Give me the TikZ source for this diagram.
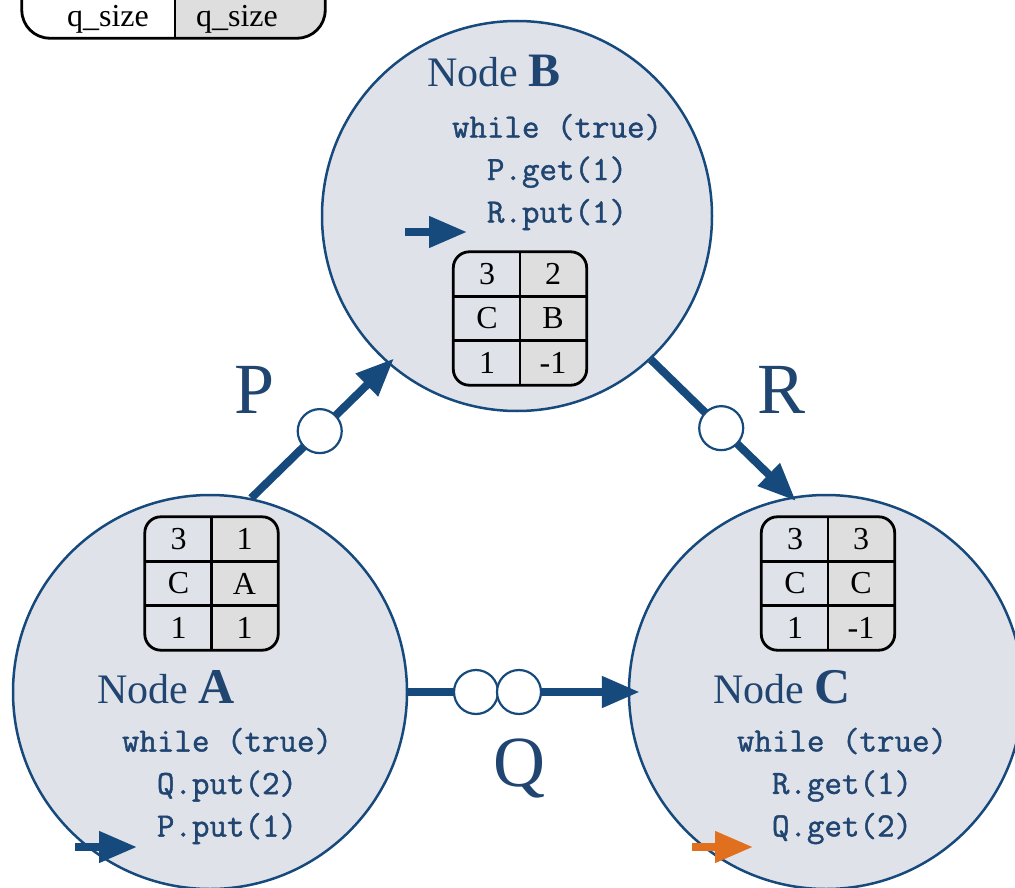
\documentclass[tikz,border=0pt]{standalone}
\usepackage{fontspec}
\setmainfont{Liberation Serif}
\setmonofont{Latin Modern Mono}[FakeBold=1.3]
\usetikzlibrary{shapes.geometric, arrows.meta, positioning, calc}

\definecolor{edgeblue}{HTML}{174A7C}
\definecolor{txtblue}{HTML}{1F4570}
\definecolor{circfill}{HTML}{E0E2EA}
\definecolor{cellgray}{HTML}{DEDEDE}
\definecolor{ptrorange}{HTML}{E0701E}

\begin{document}
\begin{tikzpicture}[x=1pt, y=-1pt]
        \tikzstyle{proc} = [circle, draw=edgeblue, line width=2.5pt, fill=circfill, minimum size=394pt, inner sep=0pt]
        \tikzstyle{title} = [text=txtblue, inner sep=0pt, anchor=base, font=\fontsize{42}{48}\selectfont]
        \tikzstyle{code} = [text=txtblue, inner sep=0pt, align=center, font=\fontsize{34}{42.5}\selectfont\ttfamily]
        \tikzstyle{chan} = [text=txtblue, inner sep=0pt, anchor=base, font=\fontsize{72}{72}\selectfont]
        \tikzstyle{qtab} = [rectangle, minimum width=133pt, minimum height=133pt, inner sep=0pt]
        \tikzstyle{tabline} = [line width=2.8pt, draw=black]
        \tikzstyle{cell} = [inner sep=0pt, font=\fontsize{32}{36}\selectfont]
        \tikzstyle{slot} = [circle, draw=edgeblue, line width=2.2pt, fill=white, minimum size=44pt, inner sep=0pt]
        \tikzstyle{arrow} = [draw=edgeblue, line width=8pt, -{Triangle[length=38pt, width=30pt]}]
        \tikzstyle{ptr} = [line width=7.5pt, -{Triangle[length=38pt, width=30pt]}]

        \useasboundingbox (0,0) rectangle (1015,888);
        \clip (0,0) rectangle (1015,888);

        % legend, cut by the top edge
        \node (legend) [rectangle, minimum width=303pt, minimum height=80pt, inner sep=0pt] at (173.5,-2) {};
        \begin{scope}
            \clip [rounded corners=28pt] (legend.north west) rectangle (legend.south east);
            \fill [cellgray] ([xshift=1.5pt]legend.north) rectangle (legend.south east);
        \end{scope}
        \draw [tabline, rounded corners=28pt] (legend.north west) rectangle (legend.south east);
        \draw [tabline] ([xshift=1.5pt]legend.north) -- ([xshift=1.5pt]legend.south);
        \node (legsize) [cell, anchor=base] at (108,27) {q\_size};
        \node (legsize2) [cell, anchor=base] at (237,27) {q\_size};

        % the three nodes
        \node (nodeA) [proc] at (210,692) {};
        \node (nodeB) [proc, minimum size=390pt] at (517,216) {};
        \node (nodeC) [proc] at (826,692) {};

        \node (labA) [title] at (166,703) {Node {\fontsize{50}{50}\selectfont\bfseries A}};
        \node (labB) [title] at (494,87) {Node {\fontsize{48}{48}\selectfont\bfseries B}};
        \node (labC) [title] at (782,703) {Node {\fontsize{50}{50}\selectfont\bfseries C}};

        \node (codeA) [code] at (227,786) {while (true)\\Q.put(2)\\P.put(1)};
        \node (codeB) [code] at (557,172) {while (true)\\P.get(1)\\R.put(1)};
        \node (codeC) [code] at (842,786) {while (true)\\R.get(1)\\Q.get(2)};

        % tables
        \node (tabA) [qtab] at (211.5,583.5) {};
        \node (tabB) [qtab] at (520,318.5) {};
        \node (tabC) [qtab] at (828,583.5) {};
        \begin{scope}
            \clip [rounded corners=16pt] (tabA.north west) rectangle (tabA.south east);
            \fill [cellgray] (tabA.north) rectangle (tabA.south east);
        \end{scope}
        \begin{scope}
            \clip [rounded corners=16pt] (tabB.north west) rectangle (tabB.south east);
            \fill [cellgray] (tabB.north) rectangle (tabB.south east);
        \end{scope}
        \begin{scope}
            \clip [rounded corners=16pt] (tabC.north west) rectangle (tabC.south east);
            \fill [cellgray] (tabC.north) rectangle (tabC.south east);
        \end{scope}
        \draw [tabline, rounded corners=16pt] (tabA.north west) rectangle (tabA.south east);
        \draw [tabline] (tabA.north) -- (tabA.south);
        \draw [tabline] ([yshift=22.2pt]tabA.west) -- ([yshift=22.2pt]tabA.east);
        \draw [tabline] ([yshift=-22.2pt]tabA.west) -- ([yshift=-22.2pt]tabA.east);
        \draw [tabline, rounded corners=16pt] (tabB.north west) rectangle (tabB.south east);
        \draw [tabline] (tabB.north) -- (tabB.south);
        \draw [tabline] ([yshift=22.2pt]tabB.west) -- ([yshift=22.2pt]tabB.east);
        \draw [tabline] ([yshift=-22.2pt]tabB.west) -- ([yshift=-22.2pt]tabB.east);
        \draw [tabline, rounded corners=16pt] (tabC.north west) rectangle (tabC.south east);
        \draw [tabline] (tabC.north) -- (tabC.south);
        \draw [tabline] ([yshift=22.2pt]tabC.west) -- ([yshift=22.2pt]tabC.east);
        \draw [tabline] ([yshift=-22.2pt]tabC.west) -- ([yshift=-22.2pt]tabC.east);

        \node (tA11) [cell] at ([xshift=-33pt, yshift=44.4pt]tabA.center) {3};
        \node (tA12) [cell] at ([xshift=33pt, yshift=44.4pt]tabA.center) {1};
        \node (tA21) [cell] at ([xshift=-33pt]tabA.center) {C};
        \node (tA22) [cell] at ([xshift=33pt]tabA.center) {A};
        \node (tA31) [cell] at ([xshift=-33pt, yshift=-44.4pt]tabA.center) {1};
        \node (tA32) [cell] at ([xshift=33pt, yshift=-44.4pt]tabA.center) {1};
        \node (tB11) [cell] at ([xshift=-33pt, yshift=44.4pt]tabB.center) {3};
        \node (tB12) [cell] at ([xshift=33pt, yshift=44.4pt]tabB.center) {2};
        \node (tB21) [cell] at ([xshift=-33pt]tabB.center) {C};
        \node (tB22) [cell] at ([xshift=33pt]tabB.center) {B};
        \node (tB31) [cell] at ([xshift=-33pt, yshift=-44.4pt]tabB.center) {1};
        \node (tB32) [cell] at ([xshift=33pt, yshift=-44.4pt]tabB.center) {-1};
        \node (tC11) [cell] at ([xshift=-33pt, yshift=44.4pt]tabC.center) {3};
        \node (tC12) [cell] at ([xshift=33pt, yshift=44.4pt]tabC.center) {3};
        \node (tC21) [cell] at ([xshift=-33pt]tabC.center) {C};
        \node (tC22) [cell] at ([xshift=33pt]tabC.center) {C};
        \node (tC31) [cell] at ([xshift=-33pt, yshift=-44.4pt]tabC.center) {1};
        \node (tC32) [cell] at ([xshift=33pt, yshift=-44.4pt]tabC.center) {-1};

        % channels
        \draw [arrow, shorten >=-8pt] (nodeA.78) -- (nodeB.229);
        \draw [arrow, shorten >=-6pt] (nodeB.313) -- (nodeC.100);
        \draw [arrow, shorten >=-12pt] (nodeA.east) -- (nodeC.west);
        \node (slotP) [slot] at ($(nodeA.78)!0.5!(nodeB.229)$) {};
        \node (slotR) [slot] at ($(nodeB.313)!0.5!(nodeC.100)$) {};
        \node (slotQ1) [slot] at (476,692) {};
        \node (slotQ2) [slot] at (519,692) {};
        \node (labP) [chan] at (255,413) {P};
        \node (labR) [chan] at (782,413) {R};
        \node (labQ) [chan] at (519,786) {Q};

        % program counters
        \coordinate (pcA) at (75,847);
        \coordinate (pcA2) at (137,847);
        \coordinate (pcB) at (405,232);
        \coordinate (pcB2) at (467,232);
        \coordinate (pcC) at (692,847);
        \coordinate (pcC2) at (753,847);
        \draw [ptr, edgeblue] (pcA) -- (pcA2);
        \draw [ptr, edgeblue] (pcB) -- (pcB2);
        \draw [ptr, ptrorange] (pcC) -- (pcC2);
    \end{tikzpicture}
\end{document}
